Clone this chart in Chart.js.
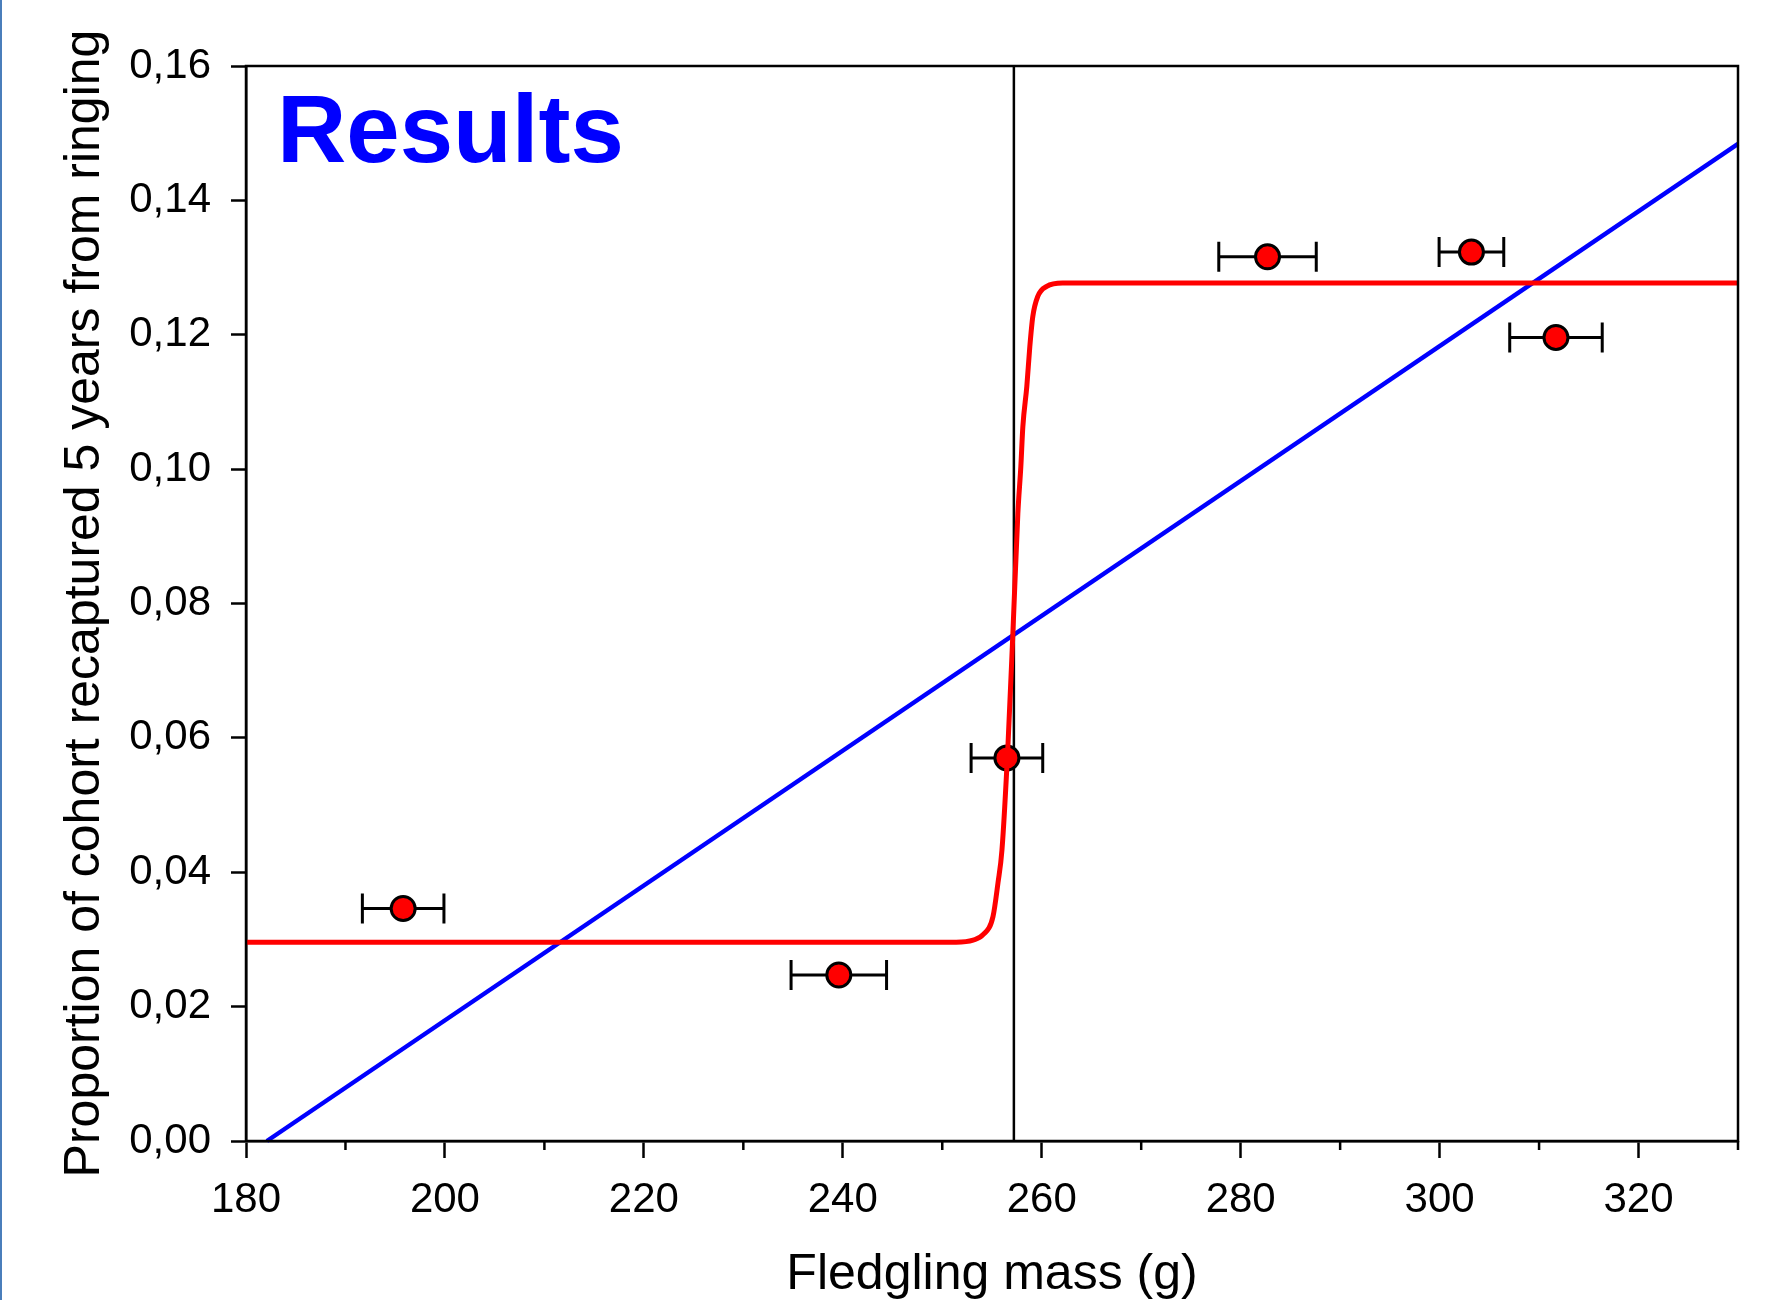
<!DOCTYPE html>
<html>
<head>
<meta charset="utf-8">
<script src="https://cdn.jsdelivr.net/npm/chart.js@4.4.0/dist/chart.umd.min.js"></script>
<style>
  html, body { margin: 0; padding: 0; background: #ffffff; }
  #wrap { position: relative; width: 1780px; height: 1300px; overflow: hidden; }
  #edge { position: absolute; left: 0; top: 0; width: 2px; height: 1300px; background: #4a7ebb; z-index: 2; }
  canvas { display: block; }
</style>
</head>
<body>
<div id="wrap"><div id="edge"></div><canvas id="c" width="1780" height="1300"></canvas></div>
<script>
// ---- data ----
const massX = [195.8, 239.6, 256.5, 282.7, 303.2, 311.7];
const propY = [0.0346, 0.0247, 0.0570, 0.1316, 0.1323, 0.1196];
const massErr = [4.1, 4.8, 3.6, 4.9, 3.25, 4.65];

const stepX = [180, 251.4, 253.1, 254.1, 255.1, 255.6, 256.0, 256.6, 257.1, 257.6, 257.9, 258.1, 258.5, 258.8, 259.1, 259.6, 260.5, 262.1, 330];
const stepY = [0.0296, 0.0296, 0.0299, 0.0307, 0.0334, 0.0384, 0.0433, 0.0587, 0.0756, 0.0934, 0.1004, 0.1063, 0.1123, 0.1182, 0.1227, 0.1257, 0.1272, 0.1277, 0.1277];

const linearX = [182.1, 330];
const linearY = [0, 0.1484];

const thresholdX = [257.2, 257.2];
const thresholdY = [0, 0.16];

const xMajorTicks = [180, 200, 220, 240, 260, 280, 300, 320];
const xMinorTicks = [190, 210, 230, 250, 270, 290, 310, 330];
const yTicks = [0, 0.02, 0.04, 0.06, 0.08, 0.10, 0.12, 0.14, 0.16];

const titleText = 'Results';
const xTitle = 'Fledgling mass (g)';
const yTitle = 'Proportion of cohort recaptured 5 years from ringing';

const FONT = "'Liberation Sans', Arial, sans-serif";

const toPts = (xs, ys) => xs.map((x, i) => ({ x: x, y: ys[i] }));

const errorBarPlugin = {
  id: 'errorBars',
  beforeDatasetDraw(chart, args) {
    const ds = chart.data.datasets[args.index];
    if (!ds.isPoints) return;
    const ctx = chart.ctx, xs = chart.scales.x, ys = chart.scales.y;
    ctx.save();
    ctx.strokeStyle = '#000';
    ctx.lineWidth = 3;
    const cap = 15;
    massX.forEach((mx, i) => {
      const py = ys.getPixelForValue(propY[i]);
      const x1 = xs.getPixelForValue(mx - massErr[i]);
      const x2 = xs.getPixelForValue(mx + massErr[i]);
      ctx.beginPath();
      ctx.moveTo(x1, py); ctx.lineTo(x2, py);
      ctx.moveTo(x1, py - cap); ctx.lineTo(x1, py + cap);
      ctx.moveTo(x2, py - cap); ctx.lineTo(x2, py + cap);
      ctx.stroke();
    });
    ctx.restore();
  }
};

const framePlugin = {
  id: 'frame',
  afterDraw(chart) {
    const ctx = chart.ctx, a = chart.chartArea, xs = chart.scales.x;
    ctx.save();
    ctx.strokeStyle = '#000';
    ctx.lineWidth = 2.5;
    ctx.strokeRect(a.left, a.top, a.right - a.left, a.bottom - a.top);
    xMinorTicks.forEach(v => {
      const px = xs.getPixelForValue(v);
      ctx.beginPath();
      ctx.moveTo(px, a.bottom);
      ctx.lineTo(px, a.bottom + 9);
      ctx.stroke();
    });
    ctx.fillStyle = '#0000ff';
    ctx.font = "bold 96px " + FONT;
    ctx.textAlign = 'left';
    ctx.textBaseline = 'alphabetic';
    ctx.fillText(titleText, a.left + 31, a.top + 96);
    ctx.restore();
  }
};

new Chart(document.getElementById('c'), {
  type: 'scatter',
  data: {
    datasets: [
      {
        type: 'line',
        data: toPts(stepX, stepY),
        borderColor: '#ff0000',
        borderWidth: 5,
        pointRadius: 0,
        fill: false,
        cubicInterpolationMode: 'monotone'
      },
      {
        type: 'line',
        data: toPts(linearX, linearY),
        borderColor: '#0000ff',
        borderWidth: 4.5,
        pointRadius: 0,
        fill: false
      },
      {
        isPoints: true,
        data: toPts(massX, propY),
        backgroundColor: '#ff0000',
        borderColor: '#000000',
        borderWidth: 3,
        pointRadius: 12,
        pointHoverRadius: 12
      },
      {
        type: 'line',
        data: toPts(thresholdX, thresholdY),
        borderColor: '#000000',
        borderWidth: 2.5,
        pointRadius: 0,
        fill: false
      }
    ]
  },
  options: {
    responsive: false,
    animation: false,
    events: [],
    clip: false,
    layout: { padding: { left: 54, right: 42, top: 66, bottom: 0 } },
    plugins: { legend: { display: false }, tooltip: { enabled: false } },
    scales: {
      x: {
        type: 'linear',
        min: 180, max: 330,
        afterFit(s) { s.height = 159; },
        afterBuildTicks(s) { s.ticks = xMajorTicks.map(v => ({ value: v })); },
        ticks: {
          color: '#000',
          padding: 17,
          font: { family: FONT, size: 42 },
          maxRotation: 0,
          autoSkip: false,
          callback: v => String(v)
        },
        grid: {
          drawOnChartArea: false,
          drawTicks: true,
          tickLength: 17,
          tickColor: '#000',
          tickWidth: 2.5
        },
        border: { display: true, color: '#000', width: 2.5 },
        title: {
          display: true,
          text: xTitle,
          color: '#000',
          font: { family: FONT, size: 50, lineHeight: 1 },
          padding: { top: 0, bottom: 0 }
        }
      },
      y: {
        type: 'linear',
        min: 0, max: 0.16,
        afterFit(s) { s.width = 192; },
        afterBuildTicks(s) { s.ticks = yTicks.map(v => ({ value: v })); },
        ticks: {
          color: '#000',
          padding: 20,
          font: { family: FONT, size: 42 },
          autoSkip: false,
          callback: v => Number(v).toFixed(2).replace('.', ',')
        },
        grid: {
          drawOnChartArea: false,
          drawTicks: true,
          tickLength: 15,
          tickColor: '#000',
          tickWidth: 2.5
        },
        border: { display: true, color: '#000', width: 2.5 },
        title: {
          display: true,
          text: yTitle,
          color: '#000',
          font: { family: FONT, size: 50 },
          padding: { top: 1, bottom: 0 }
        }
      }
    }
  },
  plugins: [errorBarPlugin, framePlugin]
});
</script>
</body>
</html>
